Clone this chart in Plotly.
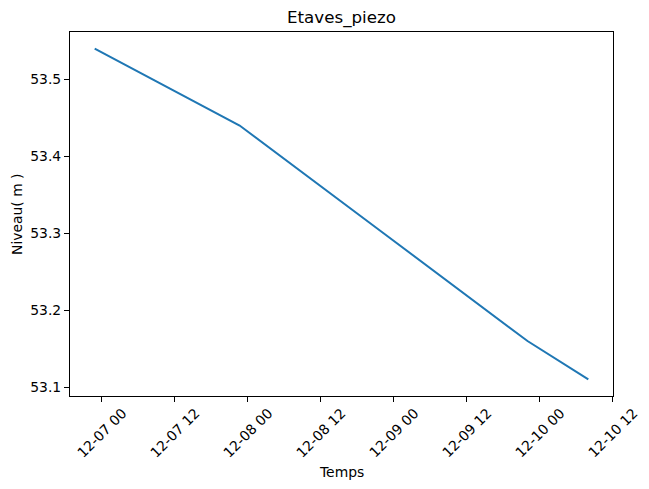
import plotly.graph_objects as go
import pandas as pd

# Data
times = ["2023-12-06 22:50", "2023-12-07 22:40", "2023-12-08 22:20",
         "2023-12-09 22:00", "2023-12-10 08:00"]
niveau = [53.54, 53.44, 53.30, 53.16, 53.11]

tick_vals = ["2023-12-07 00:00", "2023-12-07 12:00", "2023-12-08 00:00",
             "2023-12-08 12:00", "2023-12-09 00:00", "2023-12-09 12:00",
             "2023-12-10 00:00", "2023-12-10 12:00"]
tick_text = ["12-07 00", "12-07 12", "12-08 00", "12-08 12",
             "12-09 00", "12-09 12", "12-10 00", "12-10 12"]
y_ticks = [53.1, 53.2, 53.3, 53.4, 53.5]

title = "Etaves_piezo"
x_title = "Temps"
y_title = "Niveau( m )"

# matplotlib-like 5% margins
t = pd.to_datetime(times)
span = t.max() - t.min()
x_range = [t.min() - 0.05 * span, t.max() + 0.05 * span]
vspan = max(niveau) - min(niveau)
y_range = [min(niveau) - 0.05 * vspan, max(niveau) + 0.05 * vspan]

FONT = "DejaVu Sans"
W, H = 641, 481  # page body has an 8px margin

fig = go.Figure()
fig.add_trace(go.Scatter(x=t, y=niveau, mode="lines",
                         line=dict(color="#1f77b4", width=2),
                         showlegend=False, hoverinfo="skip"))

axis_common = dict(showline=True, linecolor="black", linewidth=1, mirror=True,
                   ticks="outside", ticklen=5, tickwidth=1, tickcolor="black",
                   showgrid=False, zeroline=False)

fig.update_xaxes(range=x_range, tickvals=pd.to_datetime(tick_vals),
                 showticklabels=False, **axis_common)
fig.update_yaxes(range=y_range, tickvals=y_ticks,
                 ticktext=[f"{v:.1f}" for v in y_ticks],
                 tickfont=dict(family=FONT, size=13.9, color="black"),
                 **axis_common)

# rotated x tick labels (matplotlib style: rotation 45, centered on tick)
for tv, tt in zip(pd.to_datetime(tick_vals), tick_text):
    fig.add_annotation(x=tv, y=0, xref="x", yref="paper", text=tt,
                       textangle=-45, showarrow=False, xanchor="center",
                       yanchor="top", yshift=-7,
                       font=dict(family=FONT, size=13.9, color="black"))

fig.add_annotation(text=x_title, x=0.5, y=0, xref="paper", yref="paper",
                   xanchor="center", yanchor="middle", yshift=-76,
                   showarrow=False, font=dict(family=FONT, size=13.9, color="black"))
fig.add_annotation(text=y_title, x=0, y=0.5, xref="paper", yref="paper",
                   xanchor="center", yanchor="middle", xshift=-53, textangle=-90,
                   showarrow=False, font=dict(family=FONT, size=13.9, color="black"))

fig.update_layout(
    width=W, height=H,
    margin=dict(l=62, r=36, t=24, b=93),
    paper_bgcolor="white", plot_bgcolor="white",
    title=dict(text=title, x=(62 + (W - 36)) / 2 / W, xanchor="center",
               y=1 - 9 / H, yanchor="middle", yref="container",
               font=dict(family=FONT, size=16.7, color="black")),
    font=dict(family=FONT, color="black"),
)

fig.write_html("out.html")
